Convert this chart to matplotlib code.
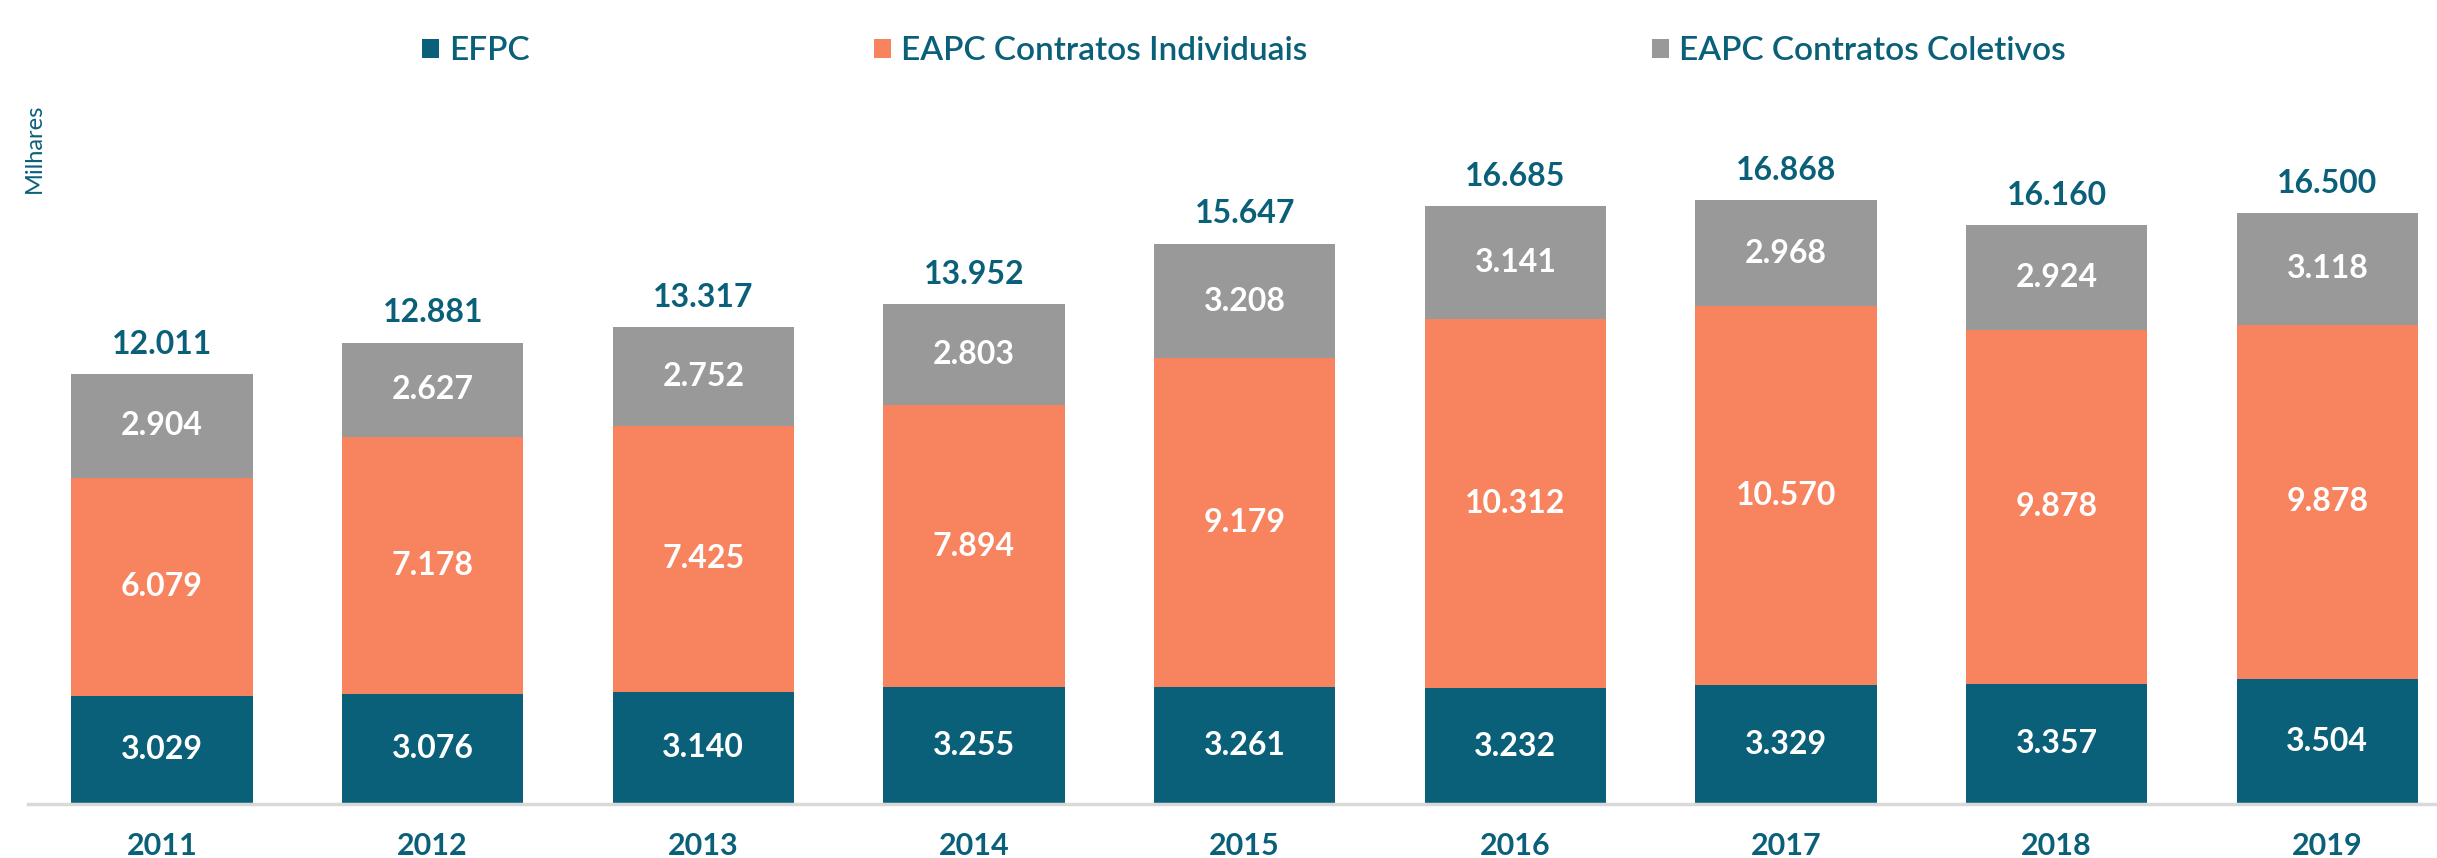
import matplotlib
matplotlib.use('Agg')
import matplotlib.pyplot as plt
import numpy as np

# dados (milhares)
anos = ['2011', '2012', '2013', '2014', '2015', '2016', '2017', '2018', '2019']
efpc = [3029, 3076, 3140, 3255, 3261, 3232, 3329, 3357, 3504]
eapc_ind = [6079, 7178, 7425, 7894, 9179, 10312, 10570, 9878, 9878]
eapc_col = [2904, 2627, 2752, 2803, 3208, 3141, 2968, 2924, 3118]
totais = [12011, 12881, 13317, 13952, 15647, 16685, 16868, 16160, 16500]

teal = '#0B6079'
laranja = '#F7845F'
cinza = '#999999'

plt.rcParams['font.family'] = ['Lato', 'DejaVu Sans']


def fmt(v):
    return f'{v:,}'.replace(',', '.')


W, H = 2437, 858
fig = plt.figure(figsize=(W / 100, H / 100), dpi=100)
ax = fig.add_axes([28 / W, 54 / H, 1 - 28 / W, 804 / H])

x = np.arange(len(anos))
largura = 0.67
b1 = ax.bar(x, efpc, largura, color=teal, label='EFPC')
b2 = ax.bar(x, eapc_ind, largura, bottom=efpc, color=laranja,
            label='EAPC Contratos Individuais')
base3 = np.array(efpc) + np.array(eapc_ind)
b3 = ax.bar(x, eapc_col, largura, bottom=base3, color=cinza,
            label='EAPC Contratos Coletivos')

for cont, vals in [(b1, efpc), (b2, eapc_ind), (b3, eapc_col)]:
    ax.bar_label(cont, labels=[fmt(v) for v in vals], label_type='center',
                 color='white', fontsize=23, fontweight='bold')
ax.bar_label(b3, labels=[fmt(v) for v in totais], padding=11,
             color=teal, fontsize=23, fontweight='bold')

ax.set_xlim(-0.495, 8.405)
ax.set_ylim(0, 22450)
ax.set_xticks(x)
ax.set_xticklabels(anos, fontsize=22, fontweight='bold', color=teal)
ax.tick_params(axis='x', length=0, pad=20)
ax.set_yticks([])
for s in ['top', 'right', 'left']:
    ax.spines[s].set_visible(False)
ax.spines['bottom'].set_color('#D9D9D9')
ax.spines['bottom'].set_linewidth(2.5)
ax.patch.set_alpha(0)

fig.text(34 / W, 1 - 148 / H, 'Milhares', rotation=90, ha='center',
         va='center', color=teal, fontsize=17)

leg = fig.legend(handles=[b1, b2, b3], loc='upper left',
                 bbox_to_anchor=(392 / W, 1 - 6 / H), ncol=3, frameon=False,
                 fontsize=24, handlelength=0.5, handleheight=0.5,
                 handletextpad=0.3, columnspacing=10.35)
for t in leg.get_texts():
    t.set_color(teal)
    t.set_fontweight('semibold')

fig.savefig('out.png', dpi=100)
